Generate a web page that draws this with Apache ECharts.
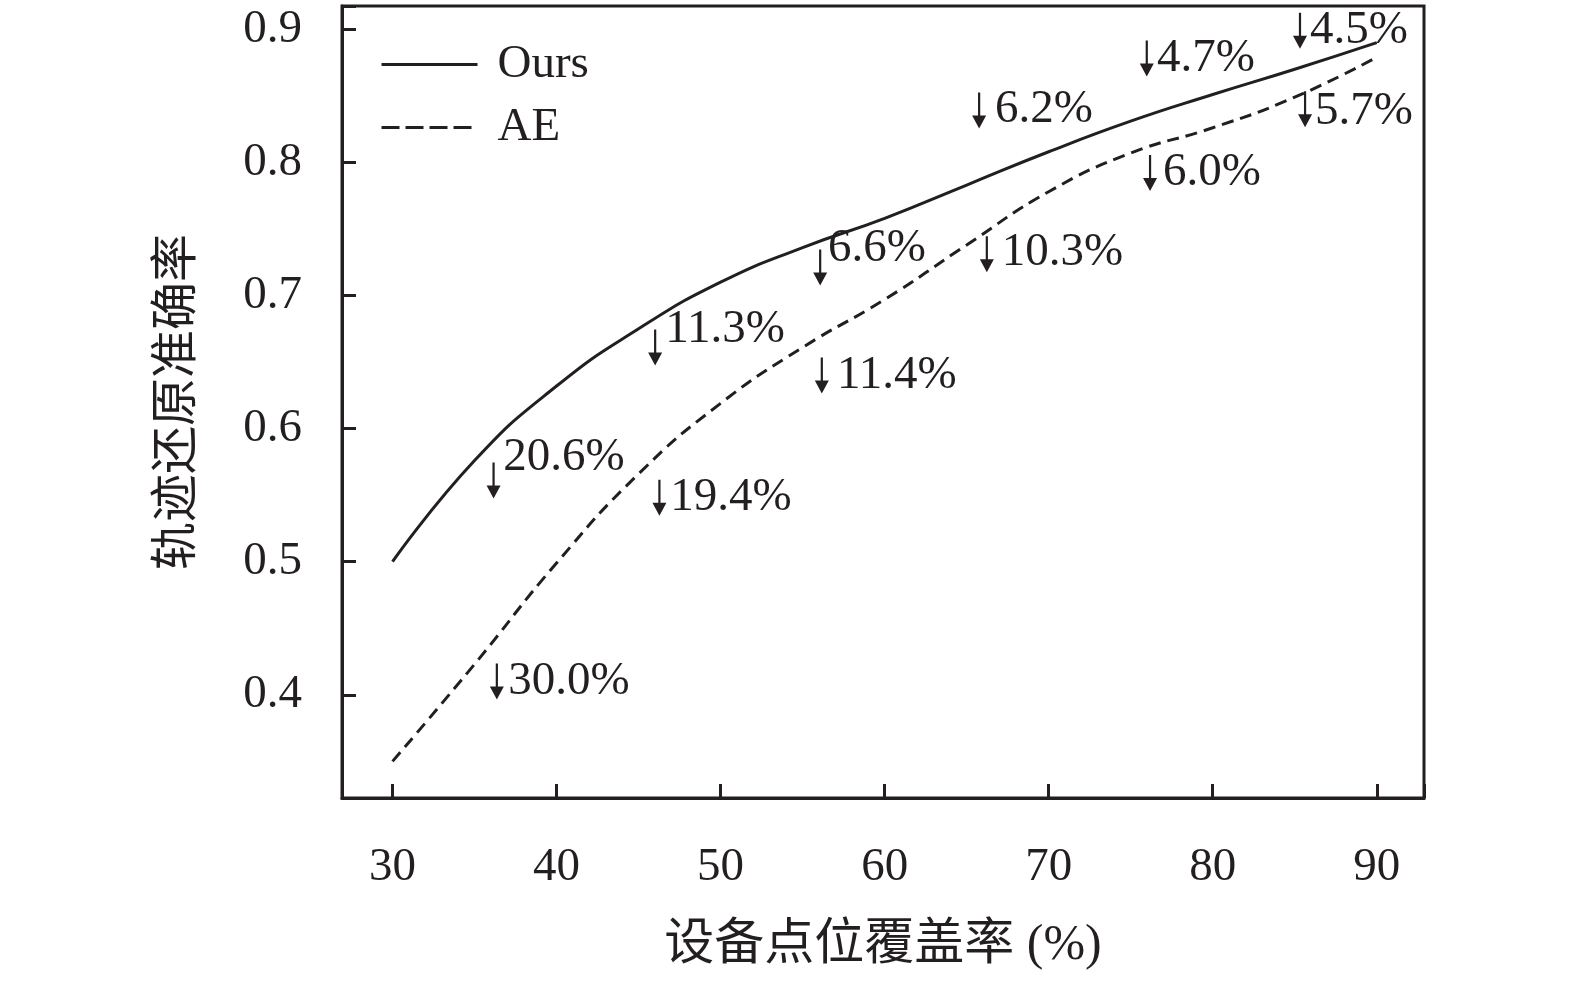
<!DOCTYPE html>
<html>
<head>
<meta charset="utf-8">
<script src="https://cdn.jsdelivr.net/npm/echarts@6/dist/echarts.min.js"></script>
<style>
html, body { margin: 0; padding: 0; background: #fff; }
#main { width: 1575px; height: 983px; }
</style>
</head>
<body>
<div id="main"></div>
<script>
// 设备点位覆盖率 (%)
var coverage = [30, 35, 40, 45, 50, 55, 60, 65, 70, 75, 80, 85, 90];
// 轨迹还原准确率
var oursAcc = [0.500, 0.576, 0.632, 0.675, 0.710, 0.736, 0.758, 0.783, 0.808, 0.831, 0.851, 0.870, 0.890];
var aeAcc   = [0.350, 0.423, 0.499, 0.566, 0.619, 0.661, 0.697, 0.738, 0.778, 0.807, 0.826, 0.849, 0.879];

// 下降标注：文字、文字位置、箭头位置 (数据坐标)
var dropText = ['20.6%', '30.0%', '11.3%', '19.4%', '6.6%', '11.4%', '6.2%', '10.3%', '4.7%', '6.0%', '4.5%', '5.7%'];
var dropTextPos = [
    [36.75, 0.578], [37.05, 0.410], [46.62, 0.674], [46.93, 0.548],
    [56.55, 0.735], [57.10, 0.640], [66.73, 0.840], [67.14, 0.732],
    [76.61, 0.878], [76.97, 0.792], [85.93, 0.899], [86.24, 0.838]
];
var dropArrowPos = [
    [36.16, 0.561], [36.36, 0.410], [46.01, 0.661], [46.27, 0.548],
    [56.07, 0.721], [56.17, 0.640], [65.76, 0.839], [66.23, 0.731],
    [75.98, 0.878], [76.18, 0.792], [85.32, 0.899], [85.63, 0.840]
];

var ink = '#231f20';
var serif = '"Liberation Serif", "Times New Roman", "Noto Sans CJK SC", serif';
// 细杆 + 实心三角的向下箭头
var downArrow = 'path://M5.9,0 L8.1,0 L8.1,23 L14,23 L7,36 L0,23 L5.9,23 Z';

function pairs(xs, ys) {
    return xs.map(function (x, i) { return [x, ys[i]]; });
}

var option = {
    backgroundColor: '#fff',
    animation: false,
    grid: {
        left: 342, right: 151, top: 6, bottom: 185,
        show: true,
        borderColor: ink,
        borderWidth: 3
    },
    legend: {
        orient: 'vertical',
        left: 380,
        top: 41,
        padding: 0,
        itemWidth: 96,
        itemHeight: 20,
        itemGap: 16,
        itemStyle: { opacity: 0 },
        lineStyle: { width: 3, color: ink },
        data: [
            { name: 'Ours' },
            { name: 'AE', lineStyle: { width: 3, color: ink, type: [18, 6] } }
        ],
        textStyle: {
            color: ink,
            fontSize: 47,
            fontFamily: serif,
            lineHeight: 47,
            padding: [0, 0, 0, 15]
        }
    },
    xAxis: {
        type: 'value',
        min: 26.92,
        max: 92.88,
        splitNumber: 6,
        name: '设备点位覆盖率 (%)',
        nameLocation: 'middle',
        nameGap: 123,
        nameTextStyle: { color: ink, fontSize: 50, fontFamily: serif },
        axisLine: { lineStyle: { color: ink, width: 3 } },
        axisTick: { inside: true, length: 14, lineStyle: { color: ink, width: 3 } },
        axisLabel: {
            color: ink, fontSize: 47, fontFamily: serif, margin: 46,
            formatter: function (v) { return Math.abs(v % 10) < 1e-6 ? String(v) : ''; }
        },
        splitLine: { show: false }
    },
    yAxis: {
        type: 'value',
        min: 0.3225,
        max: 0.9175,
        splitNumber: 6,
        name: '轨迹还原准确率',
        nameLocation: 'middle',
        nameGap: 140,
        nameTextStyle: { color: ink, fontSize: 48, fontFamily: serif },
        axisLine: { show: true, lineStyle: { color: ink, width: 3 } },
        axisTick: { show: true, inside: true, length: 14, lineStyle: { color: ink, width: 3 } },
        axisLabel: {
            color: ink, fontSize: 47, fontFamily: serif, margin: 40,
            formatter: function (v) {
                var t = v * 10;
                return Math.abs(t - Math.round(t)) < 1e-6 ? v.toFixed(1) : '';
            }
        },
        splitLine: { show: false }
    },
    series: [
        {
            name: 'Ours',
            type: 'line',
            data: pairs(coverage, oursAcc),
            smooth: true,
            symbol: 'none',
            lineStyle: { color: ink, width: 3 },
            itemStyle: { color: ink }
        },
        {
            name: 'AE',
            type: 'line',
            data: pairs(coverage, aeAcc),
            smooth: true,
            symbol: 'none',
            lineStyle: { color: ink, width: 3, type: [12, 7] },
            itemStyle: { color: ink }
        },
        {
            name: 'dropArrow',
            type: 'scatter',
            data: dropArrowPos,
            symbol: downArrow,
            symbolSize: [14, 36],
            silent: true,
            itemStyle: { color: ink, opacity: 1 }
        },
        {
            name: 'dropText',
            type: 'scatter',
            data: dropTextPos,
            symbolSize: 0,
            silent: true,
            itemStyle: { color: ink, opacity: 1 },
            label: {
                show: true,
                position: 'right',
                distance: 0,
                align: 'left',
                verticalAlign: 'middle',
                formatter: function (p) { return dropText[p.dataIndex]; },
                color: ink,
                opacity: 1,
                fontSize: 47,
                fontFamily: serif
            }
        }
    ]
};

var myChart = echarts.init(document.getElementById('main'));
myChart.setOption(option);
</script>
</body>
</html>
